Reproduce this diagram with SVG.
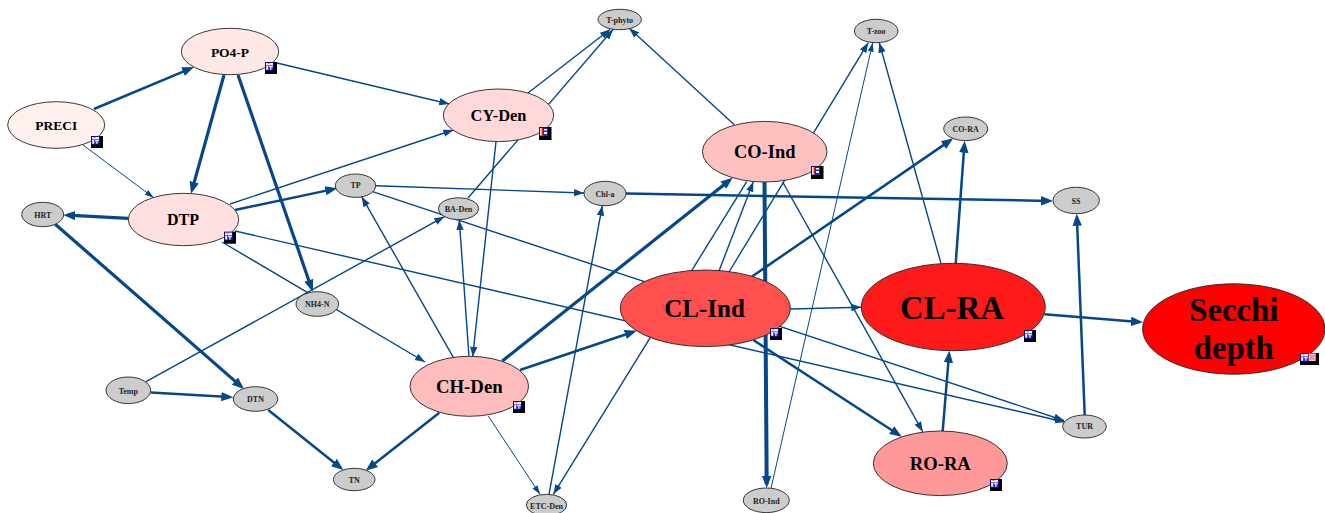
<svg xmlns="http://www.w3.org/2000/svg" width="1325" height="513" viewBox="0 0 1325 513">
<style>
text{font-family:"Liberation Serif","Times New Roman",serif;font-weight:bold;text-anchor:middle;fill:#000}
ellipse{stroke:#222;stroke-width:.9}
.g{fill:#ccc}
.s{font-size:8px;fill:#222}
#edges path{fill:none;stroke:#04478a}
.t{stroke-width:1;marker-end:url(#h1)}
.m{stroke-width:1.4;marker-end:url(#h2)}
.k{stroke-width:2.5;marker-end:url(#h3)}
.x{stroke-width:3.2;marker-end:url(#h3)}
</style>
<defs>
<marker id="h1" markerUnits="userSpaceOnUse" markerWidth="10" markerHeight="8" refX="9" refY="4" orient="auto"><path d="M0 1L9 4L0 7z" fill="#04478a"/></marker>
<marker id="h2" markerUnits="userSpaceOnUse" markerWidth="11" markerHeight="9" refX="10" refY="4.5" orient="auto"><path d="M0 .8L10 4.5L0 8.2z" fill="#04478a"/></marker>
<marker id="h3" markerUnits="userSpaceOnUse" markerWidth="13" markerHeight="11" refX="8" refY="5.5" orient="auto"><path d="M0 .8L12 5.5L0 10.2z" fill="#04478a"/></marker>
<g id="im"><rect x=".5" y=".5" width="8" height="8" fill="#2020e0"/><rect x="1" y="1" width="7" height="2.4" fill="#f4f4ff"/><rect x="2.6" y="1" width="1.8" height="1.2" fill="#e66"/><rect x="1.2" y="4" width="2" height="3.8" fill="#f4f4ff"/><rect x="4.2" y="4" width="3.6" height="1.4" fill="#f4f4ff"/><rect x="5.2" y="5.4" width="1.3" height="2.4" fill="#f4f4ff"/></g>
<g id="ia"><rect width="12" height="12" fill="#000"/><use href="#im"/></g>
<g id="ib"><rect width="12.5" height="13" fill="#000"/><rect x=".5" y=".5" width="8.5" height="8.5" fill="#2020e0"/><rect x="1" y="1" width="2.5" height="7.5" fill="#fff"/><rect x="2.5" y="1" width="1.5" height="7.5" fill="#e22"/><rect x="5" y="2" width="3" height="1.5" fill="#fff"/><rect x="5" y="5" width="3" height="2" fill="#fff"/></g>
<g id="ic"><rect x="8.7" y=".5" width="7" height="7.5" fill="#f8c8d0"/><rect x="9.7" y="2" width="1.5" height="1.5" fill="#e55"/><rect x="12.7" y="2" width="1.5" height="1.5" fill="#e55"/><rect x="11.2" y="3.5" width="1.5" height="1.5" fill="#e55"/><rect x="9.7" y="5.2" width="1.5" height="1.5" fill="#e55"/><rect x="12.7" y="5.2" width="1.5" height="1.5" fill="#e55"/></g>
</defs>
<rect width="1325" height="513" fill="#fff"/>
<g id="edges">
<path class="k" d="M94 109L190.3 68.6"/>
<path class="t" d="M83 145L153.7 197.7"/>
<path class="x" d="M224 75L192.1 189.9"/>
<path class="x" d="M238 75L311.4 287.9"/>
<path class="m" d="M277 63L449.3 104"/>
<path class="m" d="M528 93L610 29.5"/>
<path class="m" d="M468 198L613 29.5"/>
<path class="m" d="M734.3 124.7L629.3 28.3"/>
<path class="m" d="M230 204L453.3 130"/>
<path class="k" d="M235 210L333.4 189.1"/>
<path class="x" d="M128.3 218.3L67.3 215.2"/>
<path class="m" d="M235 231L1065 422"/>
<path class="m" d="M222 242L425 362"/>
<path class="m" d="M372.7 191.7L1064 420.5"/>
<path class="m" d="M375.7 185.7L584 193"/>
<path class="k" d="M626 193.5L1049 200.9"/>
<path class="x" d="M55 224L241 386.4"/>
<path class="k" d="M150.7 392.5L229.3 397.1"/>
<path class="m" d="M146 381.7L444.3 216.7"/>
<path class="k" d="M268.3 410L340.2 467.5"/>
<path class="k" d="M439.3 412.7L368.8 468.2"/>
<path class="m" d="M453.3 357.3L361.7 196.7"/>
<path class="m" d="M469 356.7L459.3 220"/>
<path class="m" d="M496 141.7L472.7 356.7"/>
<path class="x" d="M502.3 361L729.6 180.2"/>
<path class="k" d="M520 370L632.9 332"/>
<path class="t" d="M488.3 416L540 494.3"/>
<path class="m" d="M549 494.3L602.3 205.7"/>
<path class="m" d="M746.7 181.7L553.3 494.3"/>
<path class="m" d="M719 271L753.3 181.7"/>
<path class="m" d="M729 272L868.3 42.7"/>
<path class="x" style="stroke-width:4" d="M764.5 182L766.7 484"/>
<path class="t" d="M771 488.3L872.7 42.7"/>
<path class="m" d="M782.7 182L922.7 431.7"/>
<path class="m" d="M790.3 309L861.3 307.3"/>
<path class="k" d="M751.7 276.7L950 140.6"/>
<path class="k" d="M753.3 340L898.4 434.5"/>
<path class="m" d="M941 263.5L879.3 42.7"/>
<path class="k" d="M955.7 263.5L964.4 144.7"/>
<path class="k" d="M1044.3 314.3L1139 322"/>
<path class="k" d="M942.7 431L949 354.7"/>
<path class="k" d="M1084.7 415L1076.9 217.7"/>
</g>
<g id="PRECI"><ellipse cx="56.2" cy="125" rx="48.5" ry="23.3" fill="#fff0ee"/><text x="56.2" y="130" font-size="13.5">PRECI</text><use href="#ia" x="91" y="136"/></g>
<g id="PO4-P"><ellipse cx="230" cy="51.5" rx="48.7" ry="23.2" fill="#ffe9e7"/><text x="230" y="56.5" font-size="13.5">PO4-P</text><use href="#ia" x="265" y="62"/></g>
<g id="DTP"><ellipse cx="183.5" cy="219.5" rx="55.2" ry="26.2" fill="#ffdfdf"/><text x="183" y="225" font-size="16">DTP</text><use href="#ia" x="224" y="231.7"/></g>
<g id="CY-Den"><ellipse cx="498.5" cy="115.3" rx="55.2" ry="26.3" fill="#ffd9d9"/><text x="498.5" y="120.5" font-size="16.4">CY-Den</text><use href="#ib" x="539" y="127"/></g>
<g id="CO-Ind"><ellipse cx="764.7" cy="151.7" rx="62.3" ry="30.3" fill="#ffc0c0"/><text x="764.7" y="158" font-size="18.4">CO-Ind</text><use href="#ib" x="811" y="166"/></g>
<g id="CH-Den"><ellipse cx="469.3" cy="386.3" rx="59.3" ry="30" fill="#ffbcbc"/><text x="469.3" y="393" font-size="18.8">CH-Den</text><use href="#ia" x="513" y="401"/></g>
<g id="CL-Ind"><ellipse cx="705.3" cy="308.3" rx="85" ry="38.3" fill="#ff5050"/><text x="704.5" y="317" font-size="25">CL-Ind</text><use href="#ia" x="770" y="328"/></g>
<g id="CL-RA"><ellipse cx="953.3" cy="307" rx="92" ry="43.7" fill="#ff1a1a"/><text x="952" y="319" font-size="32.8">CL-RA</text><use href="#ia" x="1024" y="330"/></g>
<g id="RO-RA"><ellipse cx="940.3" cy="463.3" rx="67" ry="32.3" fill="#ff9999"/><text x="940.3" y="470" font-size="18.6">RO-RA</text><use href="#ia" x="990" y="479"/></g>
<g id="Secchi"><ellipse cx="1233.8" cy="329" rx="91.2" ry="45.2" fill="#f00"/><text x="1233.8" y="321" font-size="32.7">Secchi</text><text x="1233.8" y="359" font-size="32.7">depth</text><rect x="1300" y="353" width="19" height="12" fill="#000"/><use href="#im" x="1300" y="353"/><use href="#ic" x="1300" y="353"/></g>
<g id="HRT"><ellipse class="g" cx="42.7" cy="214.5" rx="21" ry="12.2"/><text class="s" x="42.7" y="217.5">HRT</text></g>
<g id="TP"><ellipse class="g" cx="355.5" cy="185.7" rx="20.2" ry="11.7"/><text class="s" x="355.5" y="188">TP</text></g>
<g id="T-phyto"><ellipse class="g" cx="619.7" cy="19.5" rx="21.7" ry="10.2"/><text class="s" x="619.7" y="22.5">T-phyto</text></g>
<g id="BA-Den"><ellipse class="g" cx="458.5" cy="208.7" rx="20.2" ry="11"/><text class="s" x="458.5" y="211.5">BA-Den</text></g>
<g id="Chl-a"><ellipse class="g" cx="605" cy="193.5" rx="21" ry="12.2"/><text class="s" x="605" y="197">Chl-a</text></g>
<g id="ETC-Den"><ellipse class="g" cx="546.5" cy="505" rx="20.2" ry="10.7"/><text class="s" x="546.5" y="508.5">ETC-Den</text></g>
<g id="RO-Ind"><ellipse class="g" cx="766.3" cy="500.3" rx="23" ry="12.3"/><text class="s" x="766.3" y="503.5">RO-Ind</text></g>
<g id="TUR"><ellipse class="g" cx="1084.5" cy="426.5" rx="21.8" ry="11.5"/><text class="s" x="1084.5" y="429">TUR</text></g>
<g id="T-zoo"><ellipse class="g" cx="876.2" cy="31" rx="21.8" ry="11.7"/><text class="s" x="876.2" y="34">T-zoo</text></g>
<g id="CO-RA"><ellipse class="g" cx="965.7" cy="128.8" rx="22" ry="11.8"/><text class="s" x="965.7" y="132">CO-RA</text></g>
<g id="SS"><ellipse class="g" cx="1076.2" cy="200.5" rx="23.2" ry="13.2"/><text class="s" x="1076" y="204">SS</text></g>
<g id="NH4-N"><ellipse class="g" cx="317.3" cy="304" rx="21.3" ry="12.3"/><text class="s" x="317.3" y="307">NH4-N</text></g>
<g id="Temp"><ellipse class="g" cx="128.3" cy="390.3" rx="22.3" ry="13.3"/><text class="s" x="128.3" y="393.5">Temp</text></g>
<g id="DTN"><ellipse class="g" cx="255.5" cy="399" rx="22.2" ry="12.3"/><text class="s" x="255.5" y="402">DTN</text></g>
<g id="TN"><ellipse class="g" cx="354.2" cy="479.5" rx="20.8" ry="11.2"/><text class="s" x="354.2" y="483">TN</text></g>
</svg>
